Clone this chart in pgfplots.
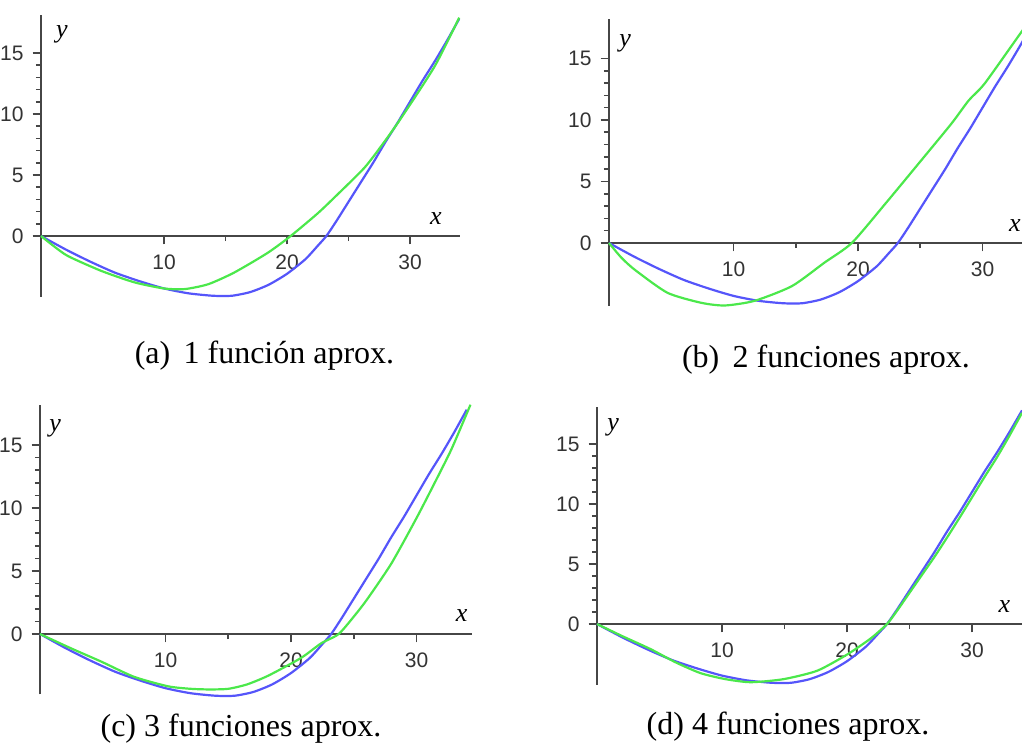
\documentclass[border=0pt]{standalone}
\usepackage{pgfplots}
\pgfplotsset{compat=1.18}
\usepackage{fontspec}
\setmainfont{Liberation Serif}
\newfontfamily\tickfont{Liberation Sans}
\definecolor{mblue}{RGB}{85,85,250}
\definecolor{mgreen}{RGB}{75,232,75}
\definecolor{axgray}{RGB}{70,70,70}
\pgfplotsset{
  maple/.style={
    axis lines=middle,
    anchor=origin,
    xmin=0, ymin=-5,
    xtick={10,20,30}, ytick={0,5,10,15},
    minor x tick num=1, minor y tick num=4,
    tick align=outside,
    major tick length=4.2pt, minor tick length=2.6pt,
    axis line style={-, draw=axgray, line width=1pt},
    every tick/.style={axgray, line width=0.8pt},
    /pgf/number format/assume math mode=true,
    ticklabel style={font=\fontsize{10.5}{10.5}\selectfont\tickfont, text=black!80},
    xticklabel style={yshift=-1.5pt},
    yticklabel style={xshift=-1pt},
    hide obscured y ticks=false,
    clip=false,
    xlabel={}, ylabel={},
  },
  blu/.style={mblue, line width=1.1pt, smooth, tension=0.4},
  grn/.style={mgreen, line width=1.1pt, smooth, tension=0.4},
}
\pgfplotstableread{
x y
0 0
2 -1.1
4 -2.1
6 -3.0
8 -3.7
10 -4.3
12 -4.7
14 -4.9
15.5 -4.9
17 -4.6
18.5 -4.0
20 -3.1
21.5 -1.9
22.5 -0.8
23.2 0
24 1.2
25 2.8
26 4.4
27 6.0
28 7.7
29 9.3
30 11.0
31 12.7
32 14.3
33 16.0
34 17.8
}\exact
\pgfplotstableread{
x y
0 0
1 -0.8
2.2 -1.65
4.9 -2.86
7.6 -3.8
10 -4.3
11.7 -4.35
13.6 -3.95
15.7 -3.0
18.4 -1.4
20.3 0
22.5 1.86
24 3.3
26.3 5.6
27.9 7.7
29.3 9.7
32 13.9
34 17.9
}\aprA
\pgfplotstableread{
x y
0 0
1 -1.2
2.1 -2.2
4.7 -4.05
7.4 -4.86
9.3 -5.08
11.7 -4.7
14.7 -3.5
17.3 -1.6
19.5 0
22.2 3.2
24.9 6.5
27.5 9.7
28.9 11.6
30.2 13.0
33.3 17.4
34 18.2
}\aprB
\pgfplotstableread{
x y
0 0
2.5 -1.15
4.9 -2.2
7.5 -3.4
10.2 -4.15
12 -4.35
13.5 -4.4
15 -4.35
16.5 -4.0
18.2 -3.3
20.8 -1.9
22.4 -0.74
23.8 0
25.1 1.5
26.1 2.8
28 5.6
30 9.2
31.5 12.1
32.8 14.7
34.3 18.2
}\aprC
\pgfplotstableread{
x y
0 0
2 -1.0
4.3 -2.1
6.3 -3.2
8.3 -4.1
10.3 -4.6
12.3 -4.85
14.9 -4.6
17.6 -3.9
20 -2.55
21.9 -1.2
23.2 0
24 1.1
25 2.6
26 4.1
27 5.6
28 7.2
29 8.85
30 10.55
31 12.25
32 13.9
33 15.7
34 17.6
}\aprD
\begin{document}
\begin{tikzpicture}
\useasboundingbox (0,0) rectangle (511pt,372.5pt);
% (a)
\begin{axis}[maple, at={(20.5pt,254.5pt)}, x=6.15pt, y=6.1pt, xmax=34.1, ymax=18.1]
\addplot[blu] table {\exact};
\addplot[grn] table {\aprA};
\node[font=\fontsize{13}{13}\selectfont\itshape, anchor=south] at (axis cs:32.1,0.4) {x};
\node[font=\fontsize{13}{13}\selectfont\itshape] at (axis cs:1.7,16.5) {y};
\end{axis}
% (b)
\begin{axis}[maple, at={(304.5pt,251pt)}, x=6.225pt, y=6.15pt, xmax=34.2, ymin=-5.1, ymax=18.2]
\addplot[blu] table {\exact};
\addplot[grn] table {\aprB};
\node[font=\fontsize{13}{13}\selectfont\itshape, anchor=south] at (axis cs:32.6,0.4) {x};
\node[font=\fontsize{13}{13}\selectfont\itshape] at (axis cs:1.3,16.2) {y};
\end{axis}
% (c)
\begin{axis}[maple, at={(20pt,55.5pt)}, x=6.275pt, y=6.3pt, xmax=34.4, ymin=-4.8, ymax=18.2]
\addplot[blu] table {\exact};
\addplot[grn] table {\aprC};
\node[font=\fontsize{13}{13}\selectfont\itshape, anchor=south] at (axis cs:33.6,0.4) {x};
\node[font=\fontsize{13}{13}\selectfont\itshape] at (axis cs:1.2,16.3) {y};
\end{axis}
% (d)
\begin{axis}[maple, at={(298.5pt,60.5pt)}, x=6.25pt, y=6.0pt, xmax=34.3, ymin=-5.06, ymax=18.1]
\addplot[blu] table {\exact};
\addplot[grn] table {\aprD};
\node[font=\fontsize{13}{13}\selectfont\itshape, anchor=south] at (axis cs:32.6,0.4) {x};
\node[font=\fontsize{13}{13}\selectfont\itshape] at (axis cs:1.3,16.4) {y};
\end{axis}
\node[font=\fontsize{16}{16}\selectfont] at (132.25pt,194.5pt) {(a)\, 1 función aprox.};
\node[font=\fontsize{16}{16}\selectfont] at (413pt,192.5pt) {(b)\, 2 funciones aprox.};
\node[font=\fontsize{16}{16}\selectfont] at (120.5pt,8pt) {(c) 3 funciones aprox.};
\node[font=\fontsize{16}{16}\selectfont] at (394pt,9pt) {(d) 4 funciones aprox.};
\end{tikzpicture}
\end{document}
